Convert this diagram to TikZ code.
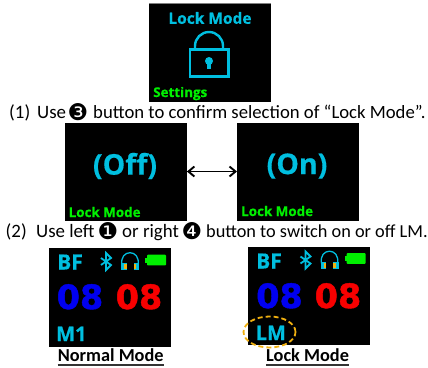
\documentclass[tikz,border=0pt]{standalone}
\usepackage{fontspec}
\usetikzlibrary{arrows.meta,shapes.geometric}
\setmainfont{Carlito}
\newfontfamily\scr[BoldFeatures={FakeBold=0.5}]{Open Sans}
\newfontfamily\dv{DejaVu Sans}
\newfontfamily\heavy[BoldFeatures={FakeBold=1.2}]{DejaVu Sans}
\definecolor{cy}{HTML}{00BFE0}
\definecolor{gr}{HTML}{00F000}
\definecolor{bl}{HTML}{0000F0}
\definecolor{rd}{HTML}{F80000}
\definecolor{org}{HTML}{F0B010}
\tikzset{x=1pt,y=-1pt,
 screen/.style={fill=black,draw=none,minimum width=#1,inner sep=0,anchor=north west},
 captext/.style={font=\fontsize{18.9}{19}\selectfont,inner sep=0,anchor=base west},
 btn/.style={font=\dv\fontsize{23}{23}\selectfont,inner sep=0},
 glab/.style={text=gr,font=\scr\bfseries\fontsize{13.4}{14}\selectfont,inner sep=0,anchor=base west},
 cyl/.style={text=cy,font=\scr\bfseries\fontsize{#1}{#1}\selectfont,inner sep=0},
 bignum/.style={font=\heavy\bfseries\fontsize{33.5}{34}\selectfont,inner sep=0,anchor=base},
 under/.style={font=\bfseries\fontsize{18.3}{19}\selectfont,inner sep=0,anchor=base},
 icon/.style={draw=cy,line width=1.8pt}
}
\newcommand{\statusicons}[2]{%
 \begin{scope}[shift={(#1,#2)}]
  \draw[icon,line join=miter] (71,18) -- (81,25) -- (76,30) -- (76,13) -- (81,18) -- (71,25);
  \draw[draw=cy,line width=1.3pt] (92,25) .. controls (89,8.6) and (111,8.6) .. (108,25);
  \fill[cy] (91,23) rectangle (96.5,30);
  \fill[cy] (103.5,23) rectangle (109,30);
  \fill[org] (94,24) rectangle (96.5,29);
  \fill[org] (103.5,24) rectangle (106,29);
  \fill[gr,rounded corners=.8pt] (117,14.7) rectangle (136,25.3);
  \fill[gr] (115,17.7) rectangle (117.5,22.7);
 \end{scope}}
\begin{document}
\begin{tikzpicture}
\useasboundingbox (0,0) rectangle (428,367);
% top screen
\fill[black] (149,3) rectangle (271,102);
\draw[gray,line width=.6pt] (149,3) -- (271,3);
\node[cyl=15.5] (t1) at (210,18) {Lock Mode};
\draw[icon,line width=2.4pt] (190,49.5) rectangle (228.5,76.5);
\draw[icon,line width=2.4pt] (195,49.5) -- (195,46) arc[start angle=180,end angle=360,radius=14] -- (223,49.5);
\fill[cy] (209,61) circle (4);
\fill[cy] (207.4,61) rectangle (210.6,69);
\node[glab] (t2) at (153,97) {Settings};
% line 1
\node[captext] (l1a) at (9,118.5) {(1)};
\node[captext] (l1b) at (37,118.5) {Use};
\node[btn] (b3) at (78,112) {❸};
\node[captext,font=\fontsize{18.7}{19}\selectfont] (l1c) at (93,118.5) {button to confirm selection of “Lock Mode”.};
% middle screens
\node[screen=122,minimum height=98] (off) at (64.5,123) {};
\node[screen=122,minimum height=98] (on) at (237,123) {};
\node[cyl=28.5] (offt) at (125,166) {(Off)};
\node[cyl=28.5] (ont) at (297,166) {(On)};
\node[glab] (offl) at (68.5,217) {Lock Mode};
\node[glab] (onl) at (241,216) {Lock Mode};
\draw[{Straight Barb[length=6pt,width=10pt]}-{Straight Barb[length=6pt,width=10pt]},line width=1.9pt] (off.east |- 0,171.5) -- (on.west |- 0,171.5);
% line 2
\node[captext] (l2a) at (5.5,237.5) {(2)};
\node[captext] (l2b) at (36,237.5) {Use left};
\node[btn] (b1) at (108,231) {❶};
\node[captext] (l2c) at (122,237.5) {or right};
\node[btn] (b4) at (192,231) {❹};
\node[captext,font=\fontsize{18.3}{19}\selectfont] (l2d) at (206,237.5) {button to switch on or off LM.};
% normal
\node[screen=122,minimum height=99] (nm) at (48.5,248) {};
\node[cyl=21,anchor=base west] (nb) at (57,269.5) {BF};
\statusicons{30}{240}
\node[bignum,text=bl] (n1) at (80,309) {08};
\node[bignum,text=rd] (n2) at (139,309) {08};
\node[cyl=20,anchor=base west] (nm1) at (56,341) {M1};
\node[under] (nu) at (110.7,361.7) {Normal Mode};
\draw[line width=1.4pt,black!80] (nu.base west |- 0,365) -- (nu.base east |- 0,365);
% lock
\node[screen=122,minimum height=98] (lk) at (248,247) {};
\node[cyl=21,anchor=base west] (lb) at (256,268.5) {BF};
\statusicons{229.5}{238.5}
\node[bignum,text=bl] (l1n) at (279.5,308) {08};
\node[bignum,text=rd] (l2n) at (338,308) {08};
\node[cyl=20,anchor=base west] (lm) at (255.5,340) {LM};
\node[ellipse,draw=org,dash pattern=on 5pt off 3pt,line width=1.8pt,minimum width=52,minimum height=31,inner sep=0] (ring) at (269.5,332) {};
\node[under] (lu) at (307.6,361.7) {Lock Mode};
\draw[line width=1.4pt,black!80] (lu.base west |- 0,365) -- (lu.base east |- 0,365);
\end{tikzpicture}
\end{document}
